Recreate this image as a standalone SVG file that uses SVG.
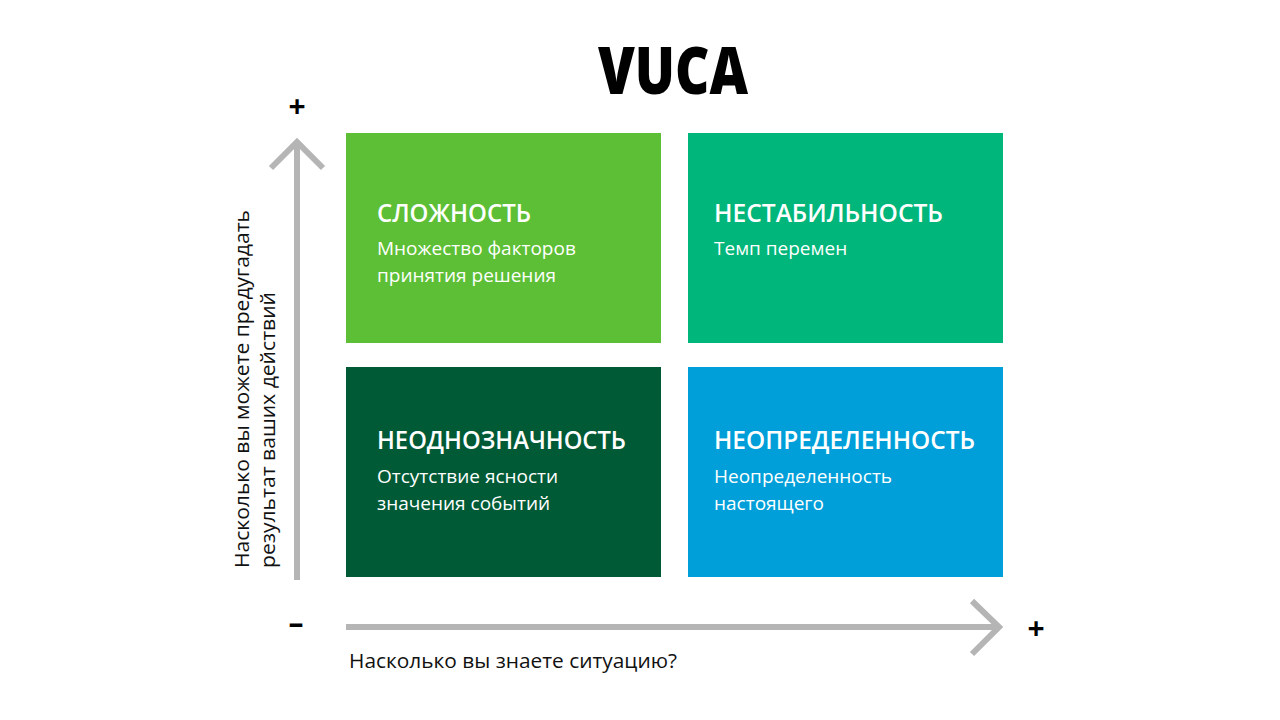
<svg xmlns="http://www.w3.org/2000/svg" width="1280" height="720" viewBox="0 0 1280 720">
<style>
.t{font-family:"Open Sans","Noto Sans",sans-serif;fill:#fff}
.h{font-size:26px;font-weight:600}
.s{font-size:19px;font-weight:500}
.ax{fill:none;stroke:#b5b5b5;stroke-width:6}
.lbl{font-family:"Open Sans","Noto Sans",sans-serif;font-size:20px;fill:#111}
.sign{font-family:"Open Sans","Noto Sans",sans-serif;font-weight:700;font-size:30px;fill:#000;text-anchor:middle}
</style>
<rect width="1280" height="720" fill="#fff"/>
<text x="598" y="94" font-family="Open Sans, Noto Sans, sans-serif" font-weight="800" font-size="66" fill="#000" textLength="150" lengthAdjust="spacingAndGlyphs">VUCA</text>
<g id="connectors">
<path class="ax" d="M297 580V145M271 168L297 142L323 168"/>
<path class="ax" d="M346 627H997M972 601L999 627L972 654"/>
</g>
<g id="complexity">
<rect x="346" y="133" width="315" height="210" fill="#5dbf35"/>
<text class="t h" x="377" y="222" textLength="154" lengthAdjust="spacingAndGlyphs">СЛОЖНОСТЬ</text>
<text class="t s" x="377" y="255">Множество факторов</text>
<text class="t s" x="377" y="282">принятия решения</text>
</g>
<g id="volatility">
<rect x="688" y="133" width="315" height="210" fill="#00b67a"/>
<text class="t h" x="714" y="222" textLength="229" lengthAdjust="spacingAndGlyphs">НЕСТАБИЛЬНОСТЬ</text>
<text class="t s" x="714" y="255">Темп перемен</text>
</g>
<g id="ambiguity">
<rect x="346" y="367" width="315" height="210" fill="#005a36"/>
<text class="t h" x="377" y="449" textLength="249" lengthAdjust="spacingAndGlyphs">НЕОДНОЗНАЧНОСТЬ</text>
<text class="t s" x="377" y="483">Отсутствие ясности</text>
<text class="t s" x="377" y="510">значения событий</text>
</g>
<g id="uncertainty">
<rect x="688" y="367" width="315" height="210" fill="#009fd9"/>
<text class="t h" x="714" y="449" textLength="261" lengthAdjust="spacingAndGlyphs">НЕОПРЕДЕЛЕННОСТЬ</text>
<text class="t s" x="714" y="483">Неопределенность</text>
<text class="t s" x="714" y="510">настоящего</text>
</g>
<g id="labels">
<text class="lbl" transform="translate(249 568) rotate(-90)" textLength="358" lengthAdjust="spacingAndGlyphs">Насколько вы можете предугадать</text>
<text class="lbl" transform="translate(275 568) rotate(-90)" textLength="276" lengthAdjust="spacingAndGlyphs">результат ваших действий</text>
<text class="lbl" x="349" y="668" textLength="328" lengthAdjust="spacingAndGlyphs">Насколько вы знаете ситуацию?</text>
<text class="sign" x="297" y="117">+</text>
<text class="sign" x="296" y="634">–</text>
<text class="sign" x="1036" y="639">+</text>
</g>
</svg>
